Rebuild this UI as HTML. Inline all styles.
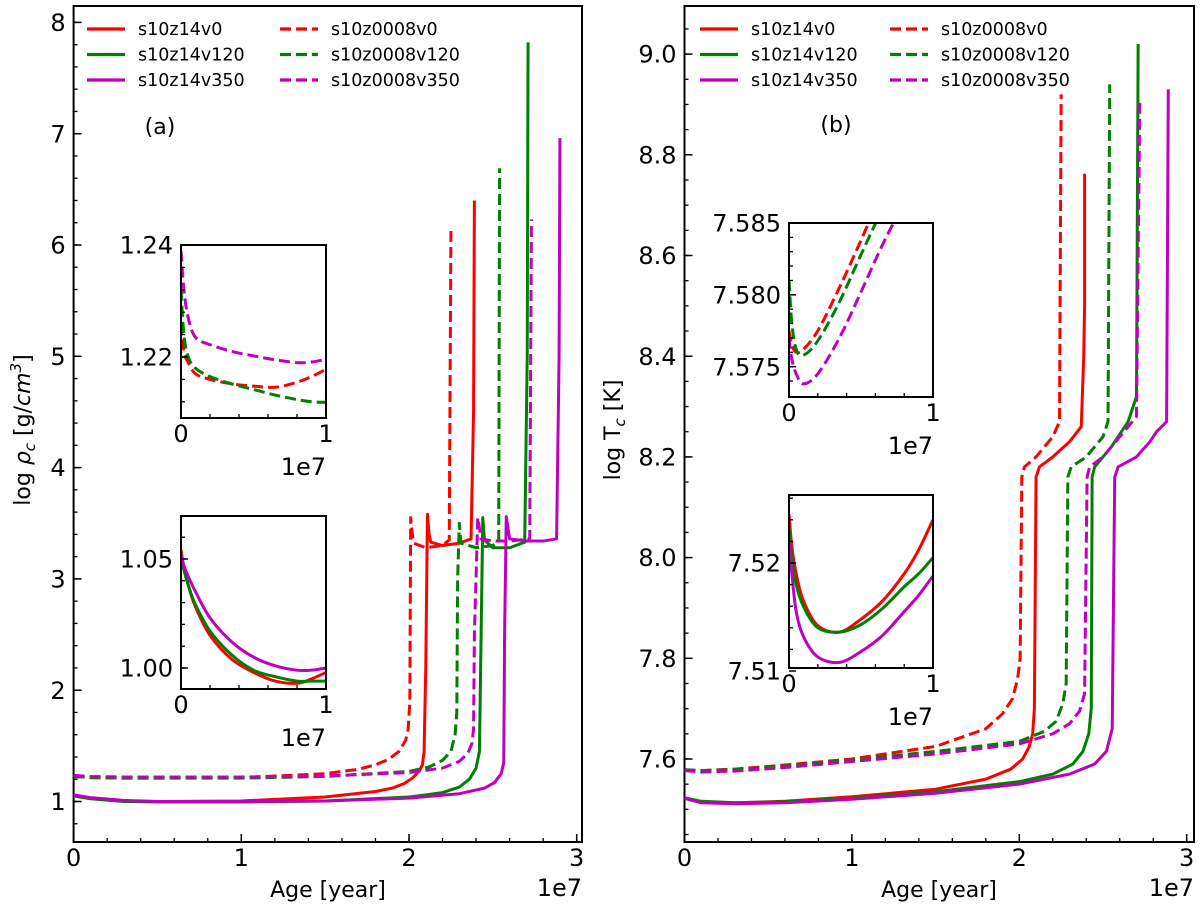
<!DOCTYPE html>
<html><head><meta charset="utf-8"><style>
body{margin:0;background:#fff;}
svg text{font-family:"DejaVu Sans","Liberation Sans",sans-serif;fill:#000;}
</style></head><body>
<svg id="fig" width="1200" height="915" viewBox="0 0 1200 915" xmlns="http://www.w3.org/2000/svg"></svg>
<script>
// ===== Data: panel (a) log rho_c vs age (1e7 yr) =====
const aRedSolidX=[0,0.1,0.3,0.5,1.0,1.5,1.8,1.9,1.97,2.02,2.06,2.08,2.09,2.1,2.11,2.12,2.13,2.2,2.3,2.37,2.385,2.39];
const aRedSolidY=[1.06,1.03,1.005,1.0,1.005,1.04,1.09,1.12,1.16,1.21,1.27,1.33,1.45,2.2,3.58,3.4,3.33,3.3,3.32,3.36,4.5,6.40];
const aRedDashX=[0,0.1,0.3,0.5,1.0,1.5,1.7,1.8,1.88,1.94,1.98,1.995,2.005,2.01,2.02,2.03,2.1,2.2,2.24,2.25];
const aRedDashY=[1.225,1.215,1.21,1.21,1.215,1.25,1.29,1.33,1.38,1.45,1.55,1.65,1.9,3.55,3.4,3.32,3.28,3.3,3.35,6.13];
const aGreenSolidX=[0,0.1,0.3,0.5,1.0,1.5,2.0,2.2,2.3,2.36,2.4,2.42,2.43,2.44,2.45,2.5,2.6,2.69,2.705,2.71];
const aGreenSolidY=[1.05,1.025,1.0,0.995,0.995,1.005,1.04,1.08,1.13,1.2,1.3,1.45,2.5,3.55,3.35,3.28,3.28,3.33,5.0,7.82];
const aGreenDashX=[0,0.1,0.3,0.5,1.0,1.5,2.0,2.12,2.2,2.25,2.275,2.285,2.29,2.3,2.31,2.4,2.5,2.535,2.54];
const aGreenDashY=[1.225,1.215,1.21,1.21,1.21,1.225,1.27,1.31,1.37,1.45,1.6,1.8,3.0,3.5,3.32,3.28,3.3,3.35,6.69];
const aMagSolidX=[0,0.1,0.3,0.5,1.0,1.5,2.0,2.3,2.45,2.51,2.55,2.565,2.57,2.58,2.6,2.7,2.8,2.88,2.895,2.9];
const aMagSolidY=[1.06,1.035,1.01,1.0,1.0,1.005,1.03,1.07,1.12,1.17,1.25,1.35,2.5,3.56,3.36,3.34,3.34,3.36,5.0,6.96];
const aMagDashX=[0,0.1,0.3,0.5,1.0,1.5,2.0,2.2,2.3,2.35,2.375,2.385,2.39,2.41,2.43,2.5,2.6,2.72,2.73];
const aMagDashY=[1.235,1.225,1.22,1.22,1.22,1.23,1.26,1.3,1.36,1.43,1.52,1.65,2.5,3.55,3.36,3.34,3.34,3.36,6.23];
// ===== Data: panel (b) log Tc =====
const bRedSolidX=[0,0.1,0.3,0.6,1.0,1.5,1.8,1.95,2.02,2.06,2.08,2.09,2.1,2.12,2.2,2.3,2.37,2.385,2.39,2.39,2.39];
const bRedSolidY=[7.522,7.515,7.513,7.516,7.525,7.54,7.56,7.58,7.6,7.625,7.65,7.7,8.16,8.18,8.2,8.23,8.26,8.4,8.5,8.76,8.5];
const bRedDashX=[0,0.1,0.3,0.6,1.0,1.5,1.8,1.9,1.96,1.99,2.005,2.015,2.03,2.1,2.2,2.24,2.25];
const bRedDashY=[7.578,7.577,7.58,7.588,7.6,7.625,7.66,7.69,7.72,7.76,7.8,8.16,8.18,8.2,8.24,8.27,8.92];
const bGreenSolidX=[0,0.1,0.3,0.6,1.0,1.5,2.0,2.2,2.32,2.38,2.415,2.43,2.435,2.45,2.55,2.65,2.7,2.71];
const bGreenSolidY=[7.523,7.516,7.513,7.515,7.522,7.535,7.555,7.57,7.59,7.615,7.65,7.7,8.16,8.18,8.22,8.27,8.32,9.02];
const bGreenDashX=[0,0.1,0.3,0.6,1.0,1.5,2.0,2.15,2.22,2.26,2.28,2.29,2.31,2.4,2.5,2.53,2.54];
const bGreenDashY=[7.579,7.577,7.579,7.586,7.598,7.615,7.635,7.655,7.675,7.71,7.75,8.16,8.18,8.2,8.24,8.27,8.94];
const bMagSolidX=[0,0.1,0.3,0.6,1.0,1.5,2.0,2.3,2.45,2.52,2.555,2.57,2.59,2.7,2.78,2.82,2.88,2.89];
const bMagSolidY=[7.522,7.513,7.511,7.513,7.52,7.532,7.55,7.57,7.59,7.615,7.66,8.16,8.18,8.2,8.23,8.25,8.27,8.93];
const bMagDashX=[0,0.1,0.3,0.6,1.0,1.5,2.0,2.2,2.3,2.36,2.39,2.405,2.42,2.5,2.6,2.7,2.72];
const bMagDashY=[7.577,7.574,7.576,7.583,7.595,7.61,7.63,7.65,7.67,7.695,7.73,8.16,8.18,8.2,8.24,8.28,8.91];
// ===== Insets =====
const inX=[0,0.02,0.05,0.1,0.2,0.35,0.5,0.65,0.8,0.9,1.0];
const aInDashRed=[1.226,1.221,1.219,1.217,1.216,1.2152,1.2148,1.2146,1.2155,1.2165,1.2178];
const aInDashGreen=[1.232,1.224,1.22,1.218,1.2165,1.2152,1.2142,1.2132,1.2124,1.212,1.2119];
const aInDashMag=[1.239,1.232,1.227,1.2235,1.2222,1.221,1.2202,1.2195,1.219,1.2191,1.2196];
const aInSolidRed=[1.054,1.046,1.038,1.028,1.015,1.004,0.998,0.994,0.993,0.995,0.998];
const aInSolidGreen=[1.052,1.045,1.038,1.029,1.017,1.006,0.999,0.996,0.994,0.994,0.994];
const aInSolidMag=[1.052,1.047,1.042,1.035,1.023,1.012,1.005,1.001,0.999,0.999,1.0];
const bInDashRed=[7.5775,7.5765,7.576,7.5762,7.5775,7.5805,7.5838,7.5872,7.590,7.592,7.594];
const bInDashGreen=[7.581,7.578,7.5762,7.5758,7.5768,7.5795,7.5828,7.586,7.589,7.591,7.593];
const bInDashMag=[7.577,7.5755,7.5745,7.5738,7.5745,7.577,7.5802,7.5835,7.5865,7.589,7.591];
const bInSolidRed=[7.5245,7.5215,7.519,7.5165,7.5142,7.5136,7.5148,7.5165,7.519,7.5212,7.524];
const bInSolidGreen=[7.5232,7.5205,7.518,7.516,7.514,7.5136,7.5143,7.5158,7.5178,7.519,7.5205];
const bInSolidMag=[7.522,7.519,7.5155,7.5132,7.5113,7.5108,7.5118,7.5133,7.5155,7.517,7.5188];
const legendLabels=["s10z14v0","s10z14v120","s10z14v350","s10z0008v0","s10z0008v120","s10z0008v350"];

const NS="http://www.w3.org/2000/svg";
const svg=document.getElementById('fig');
const RED="#ff0000",GREEN="#008000",MAG="#bf00bf";
const TICKFS=24;
function el(tag,attrs,parent){const e=document.createElementNS(NS,tag);for(const k in attrs)e.setAttribute(k,attrs[k]);(parent||svg).appendChild(e);return e;}
function txt(s,x,y,size,anchor,parent){const t=el('text',{x:x,y:y,'font-size':size,'text-anchor':anchor||'middle'},parent);t.textContent=s;return t;}
function makeAxis(px0,px1,py0,py1,xmin,xmax,ymin,ymax){
  return {sx:v=>px0+(v-xmin)/(xmax-xmin)*(px1-px0), sy:v=>py1-(v-ymin)/(ymax-ymin)*(py1-py0),px0,px1,py0,py1};
}
function frame(ax,name,xt,xmin,yt,ymin,fs,xfmt,yfmt,maj,mn){
  const g=el('g',{});
  
  
  for(const v of xmin){el('line',{x1:ax.sx(v),x2:ax.sx(v),y1:ax.py1,y2:ax.py1-mn,stroke:'#000','stroke-width':1.3},g);}
  for(const v of xt){el('line',{x1:ax.sx(v),x2:ax.sx(v),y1:ax.py1,y2:ax.py1-maj,stroke:'#000','stroke-width':1.5},g);
    const t=txt(xfmt(v),ax.sx(v),ax.py1+fs*0.76+6,fs,'middle',g);
    
    }
  for(const v of ymin){el('line',{x1:ax.px0,x2:ax.px0+mn,y1:ax.sy(v),y2:ax.sy(v),stroke:'#000','stroke-width':1.3},g);}
  for(const v of yt){el('line',{x1:ax.px0,x2:ax.px0+maj,y1:ax.sy(v),y2:ax.sy(v),stroke:'#000','stroke-width':1.5},g);
    const t=txt(yfmt(v),ax.px0-8,ax.sy(v)+fs*0.36,fs,'end',g);
    
    }
  el('rect',{x:ax.px0,y:ax.py0,width:ax.px1-ax.px0,height:ax.py1-ax.py0,fill:'none',stroke:'#000','stroke-width':2},g);
  return g;
}
function series(ax,xs,ys,color,dash,name,w,clip,smooth){
  const P=xs.map((x,i)=>[ax.sx(x),ax.sy(ys[i])]);
  let d='M'+P[0][0].toFixed(2)+','+P[0][1].toFixed(2);
  for(let i=1;i<P.length;i++){
    if(smooth){
      const p0=P[Math.max(0,i-2)],p1=P[i-1],p2=P[i],p3=P[Math.min(P.length-1,i+1)];
      const c1=[p1[0]+(p2[0]-p0[0])/6,p1[1]+(p2[1]-p0[1])/6],c2=[p2[0]-(p3[0]-p1[0])/6,p2[1]-(p3[1]-p1[1])/6];
      d+='C'+c1.map(v=>v.toFixed(2)).join(',')+' '+c2.map(v=>v.toFixed(2)).join(',')+' '+p2[0].toFixed(2)+','+p2[1].toFixed(2);
    } else d+='L'+P[i][0].toFixed(2)+','+P[i][1].toFixed(2);
  }
  const p=el('path',{d:d,fill:'none',stroke:color,'stroke-width':w||3,'stroke-linejoin':'round'});
  if(dash)p.setAttribute('stroke-dasharray','11,5');
  if(clip)p.setAttribute('clip-path','url(#'+clip+')');
  
  
  return p;
}
function range(a,b,s){const r=[];for(let v=a;v<=b+1e-9;v+=s)r.push(+v.toFixed(6));return r;}
const defs=el('defs',{});
function clipFor(id,ax){const c=el('clipPath',{id:id},defs);el('rect',{x:ax.px0,y:ax.py0,width:ax.px1-ax.px0,height:ax.py1-ax.py0},c);}

// ===== Panel a =====
const A=makeAxis(73.6,582,6,842,0,1,0,1);
A.sx=v=>73.6+v*167.7;
A.sy=v=>801.5-(v-1)*111.3;
frame(A,'panel-a-axes',[0,1,2,3],range(0,3,0.2),[1,2,3,4,5,6,7,8],range(0.8,8,0.2),TICKFS,v=>String(v),v=>String(v),8,4);
clipFor('ca',A);
series(A,aRedSolidX,aRedSolidY,RED,false,'a-s10z14v0','3','ca');
series(A,aRedDashX,aRedDashY,RED,true,'a-s10z0008v0','3','ca');
series(A,aGreenSolidX,aGreenSolidY,GREEN,false,'a-s10z14v120','3','ca');
series(A,aGreenDashX,aGreenDashY,GREEN,true,'a-s10z0008v120','3','ca');
series(A,aMagSolidX,aMagSolidY,MAG,false,'a-s10z14v350','3','ca');
series(A,aMagDashX,aMagDashY,MAG,true,'a-s10z0008v350','3','ca');
let t=txt('Age [year]',328,897,22,'middle');
t=txt('1e7',582,896,TICKFS,'end');
t=el('text',{x:0,y:0,'font-size':22,'text-anchor':'middle',transform:'translate(30,430) rotate(-90)'});
t.innerHTML='log <tspan font-style="italic">ρ</tspan><tspan font-size="15" dy="5" font-style="italic">c</tspan><tspan dy="-5"> [g/</tspan><tspan font-style="italic">cm</tspan><tspan font-size="15" dy="-9" font-style="italic">3</tspan><tspan dy="9">]</tspan>';

t=txt('(a)',160,134,22,'middle');

// ===== Panel b =====
const B=makeAxis(684.5,1194,6,842,0,1,0,1);
B.sx=v=>684.5+v*167.4;
B.sy=v=>759-(v-7.6)/0.2*100.7;
frame(B,'panel-b-axes',[0,1,2,3],range(0,3,0.2),[7.6,7.8,8.0,8.2,8.4,8.6,8.8,9.0],range(7.45,9.05,0.05),TICKFS,v=>String(v),v=>v.toFixed(1),8,4);
clipFor('cb',B);
series(B,bRedSolidX,bRedSolidY,RED,false,'b-s10z14v0','3','cb');
series(B,bRedDashX,bRedDashY,RED,true,'b-s10z0008v0','3','cb');
series(B,bGreenSolidX,bGreenSolidY,GREEN,false,'b-s10z14v120','3','cb');
series(B,bGreenDashX,bGreenDashY,GREEN,true,'b-s10z0008v120','3','cb');
series(B,bMagSolidX,bMagSolidY,MAG,false,'b-s10z14v350','3','cb');
series(B,bMagDashX,bMagDashY,MAG,true,'b-s10z0008v350','3','cb');
t=txt('Age [year]',939,897,22,'middle');
t=txt('1e7',1194,896,TICKFS,'end');
t=el('text',{x:0,y:0,'font-size':22,'text-anchor':'middle',transform:'translate(620,430) rotate(-90)'});
t.innerHTML='log T<tspan font-size="15" dy="5" font-style="italic">c</tspan><tspan dy="-5"> [K]</tspan>';

t=txt('(b)',836,132,22,'middle');

// ===== Legends =====
function legend(x0,x1c,name){
  const g=el('g',{});
  
  
  const cols=[RED,GREEN,MAG];
  for(let i=0;i<6;i++){
    const c=i<3?0:1,r=i%3,x=c?x1c:x0,y=29+r*25.5;
    const l=el('line',{x1:x,x2:x+38,y1:y,y2:y,stroke:cols[r],'stroke-width':3.2},g);
    if(c)l.setAttribute('stroke-dasharray','11,5');
    const tt=txt(legendLabels[i],x+51,y+6,17.5,'start',g);
    
    
  }
}
legend(87,280,'panel-a-legend');
legend(700,890,'panel-b-legend');

// ===== Insets =====
function inset(px0,px1,py0,py1,ymin,ymax,yt,ymn,yfmt,sets,name,id){
  const ax=makeAxis(px0,px1,py0,py1,0,1,ymin,ymax);
  el('rect',{x:px0,y:py0,width:px1-px0,height:py1-py0,fill:'#fff'});
  clipFor(id,ax);
  for(const s of sets)series(ax,inX,s[0],s[1],s[2],name+'-'+s[3],'3',id,true);
  frame(ax,name+'-axes',[0,1],range(0,1,0.2),yt,ymn,TICKFS,v=>String(v),yfmt,7,4);
  const o=txt('1e7',px1,py1+57,TICKFS,'end');
  
  
}
inset(181,326,245,418,1.22-(418-357)/5600,1.24,[1.22,1.24],range(1.212,1.24,0.004),v=>v.toFixed(2),
 [[aInDashRed,RED,true,'red'],[aInDashGreen,GREEN,true,'green'],[aInDashMag,MAG,true,'magenta']],'inset-a-top','cat');
inset(181,326,516,689,1.0-(689-668)/2180,1.05+(559-516)/2180,[1.0,1.05],range(1.0,1.06,0.01),v=>v.toFixed(2),
 [[aInSolidRed,RED,false,'red'],[aInSolidGreen,GREEN,false,'green'],[aInSolidMag,MAG,false,'magenta']],'inset-a-bottom','cab');
inset(789,933,223,397,7.575-(397-366.7)/14340,7.585,[7.575,7.58,7.585],range(7.574,7.585,0.001),v=>v.toFixed(3),
 [[bInDashRed,RED,true,'red'],[bInDashGreen,GREEN,true,'green'],[bInDashMag,MAG,true,'magenta']],'inset-b-top','cbt');
inset(789,933,495,668,7.51+(671-668)/10800,7.52+(563-495)/10800,[7.51,7.52],range(7.512,7.526,0.002),v=>v.toFixed(2),
 [[bInSolidRed,RED,false,'red'],[bInSolidGreen,GREEN,false,'green'],[bInSolidMag,MAG,false,'magenta']],'inset-b-bottom','cbb');
</script>
</body></html>
